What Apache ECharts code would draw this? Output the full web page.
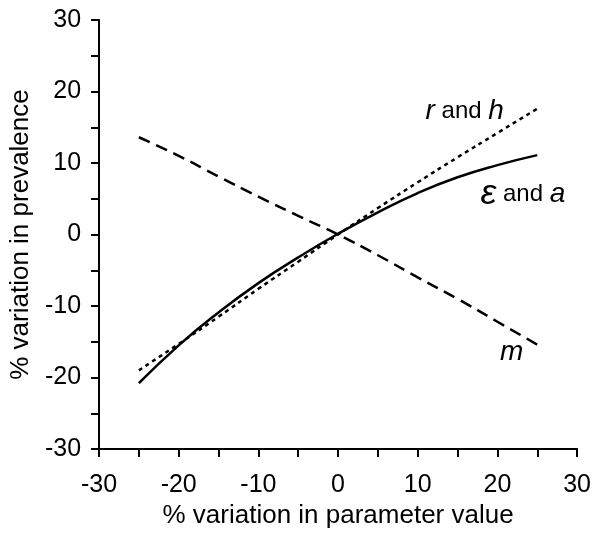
<!DOCTYPE html>
<html><head><meta charset="utf-8">
<script src="https://cdn.jsdelivr.net/npm/echarts@6/dist/echarts.min.js"></script>
<style>html,body{margin:0;padding:0;background:#fff}#c{width:594px;height:534px}</style>
</head><body><div id="c"></div>
<script>
const xValues = [-25, -20, -15, -10, -5, 0, 5, 10, 15, 20, 25];
const epsA = [-20.8, -15.5, -10.9, -6.8, -3.2, 0.1, 3.1, 5.8, 8.0, 9.7, 11.1];
const rH = [-19.0, -15.3, -11.5, -7.6, -3.8, 0.0, 3.7, 7.3, 10.8, 14.2, 17.6];
const mVals = [13.6, 11.0, 8.1, 5.3, 2.6, 0.0, -2.9, -6.0, -9.0, -12.2, -15.4];
const tickLabels = [-30, -20, -10, 0, 10, 20, 30];
const labelPos = { rh: [15.9, 17.2], ea: [23.2, 5.6], m: [21.8, -16.5] };

const font = 'Liberation Sans, Arial, sans-serif';
function pairs(ys){ return xValues.map((x,i)=>[x, ys[i]]); }
function fmt(v){ return tickLabels.indexOf(v) >= 0 ? String(v) : ''; }
const axisCommon = {
  type: 'value', min: -30, max: 30, interval: 5,
  axisLine: { show: true, onZero: false, lineStyle: { color: '#000', width: 2 } },
  axisTick: { show: true, inside: false, length: 8, lineStyle: { color: '#000', width: 2 } },
  splitLine: { show: false },
  axisLabel: { color: '#000', fontSize: 25, fontFamily: font, formatter: fmt },
  nameLocation: 'middle',
  nameTextStyle: { color: '#000', fontSize: 26, fontFamily: font }
};
function labelPoint(coord, formatter, rich){
  return { coord: coord, symbolSize: 0, label: { show: true, position: 'inside', formatter: formatter, rich: rich } };
}
const rich = {
  it: { fontStyle: 'italic', fontSize: 28, fontFamily: font, color: '#000' },
  n: { fontSize: 24, fontFamily: font, color: '#000' },
  eps: { fontStyle: 'italic', fontSize: 36, fontFamily: font, color: '#000' }
};
const chart = echarts.init(document.getElementById('c'));
chart.setOption({
  animation: false,
  backgroundColor: '#fff',
  grid: { left: 98, right: 16, top: 20, bottom: 84 },
  xAxis: Object.assign({}, axisCommon, { name: '% variation in parameter value', nameGap: 54,
    axisLabel: Object.assign({}, axisCommon.axisLabel, { margin: 24 }) }),
  yAxis: Object.assign({}, axisCommon, { name: '% variation in prevalence', nameGap: 64, nameRotate: 90,
    axisLabel: Object.assign({}, axisCommon.axisLabel, { margin: 18 }) }),
  series: [
    { type: 'line', data: pairs(epsA), smooth: true, symbol: 'none', lineStyle: { color: '#000', width: 2.5 },
      markPoint: { data: [labelPoint(labelPos.ea, '{eps|\u03B5}{n| and }{it|a}', rich)] } },
    { type: 'line', data: pairs(rH), smooth: true, symbol: 'none', lineStyle: { color: '#000', width: 2.5, type: [4, 4] },
      markPoint: { data: [labelPoint(labelPos.rh, '{it|r}{n| and }{it|h}', rich)] } },
    { type: 'line', data: pairs(mVals), smooth: true, symbol: 'none', lineStyle: { color: '#000', width: 2.5, type: [12, 7] },
      markPoint: { data: [labelPoint(labelPos.m, '{it|m}', rich)] } }
  ]
});
</script></body></html>
